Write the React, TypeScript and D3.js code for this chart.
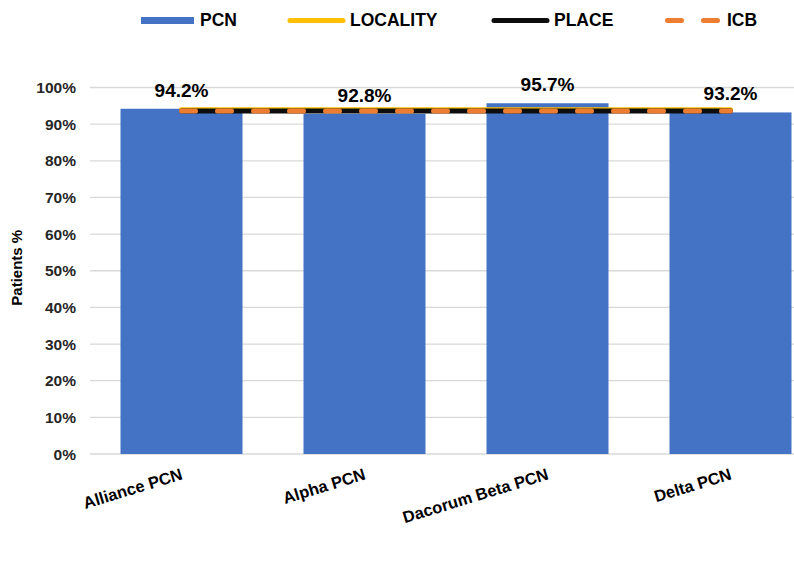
import React from "react";
import * as d3 from "d3";

const categories = ["Alliance PCN", "Alpha PCN", "Dacorum Beta PCN", "Delta PCN"];
const pcnValues = [0.942, 0.928, 0.957, 0.932];
const localityValues = [0.939, 0.939, 0.939, 0.939];
const placeValues = [0.936, 0.936, 0.936, 0.936];
const icbValues = [0.936, 0.936, 0.936, 0.936];
const yTicks = [0, 0.1, 0.2, 0.3, 0.4, 0.5, 0.6, 0.7, 0.8, 0.9, 1.0];

const W = 794;
const H = 562;
const FONT = "'Liberation Sans', Arial, sans-serif";

export default function App() {
  const x = d3
    .scaleBand<string>()
    .domain(categories)
    .range([90, 822])
    .paddingInner(1 / 3)
    .paddingOuter(1 / 6);
  const y = d3.scaleLinear().domain([0, 1]).range([454, 87.5]);
  const cx = (c: string) => (x(c) as number) + x.bandwidth() / 2;

  const line = d3
    .line<number>()
    .x((_, i) => cx(categories[i]))
    .y((d) => y(d));

  const pct = d3.format(".1%");
  const tickFmt = d3.format(".0%");

  return (
    <svg
      width={W}
      height={H}
      style={{ position: "absolute", left: 0, top: 0, background: "#fff" }}
      fontFamily={FONT}
    >
      {/* gridlines */}
      {yTicks.map((t) => (
        <line
          key={t}
          x1={90}
          x2={W}
          y1={y(t)}
          y2={y(t)}
          stroke="#d9d9d9"
          strokeWidth={1.3}
        />
      ))}
      {/* y tick labels */}
      {yTicks.map((t) => (
        <text
          key={"l" + t}
          x={76}
          y={y(t)}
          dy="0.36em"
          textAnchor="end"
          fontSize={15.5}
          fontWeight="bold"
          fill="#262626"
        >
          {tickFmt(t)}
        </text>
      ))}
      {/* y axis title */}
      <text
        transform={`translate(22,${(y(0) + y(1)) / 2 - 3}) rotate(-90)`}
        textAnchor="middle"
        fontSize={15}
        fontWeight="bold"
        fill="#000"
      >
        Patients %
      </text>
      {/* bars */}
      {categories.map((c, i) => (
        <rect
          key={c}
          x={x(c)}
          y={y(pcnValues[i])}
          width={x.bandwidth()}
          height={y(0) - y(pcnValues[i])}
          fill="#4472C4"
        />
      ))}
      {/* lines */}
      <path
        d={line(localityValues) || ""}
        fill="none"
        stroke="#FFC000"
        strokeWidth={5}
        strokeLinecap="round"
      />
      <path
        d={line(placeValues) || ""}
        fill="none"
        stroke="#0d0d0d"
        strokeWidth={5}
        strokeLinecap="round"
      />
      <path
        d={line(icbValues) || ""}
        fill="none"
        stroke="#ED7D31"
        strokeWidth={5}
        strokeLinecap="round"
        strokeDasharray="14,22"
      />
      {/* data labels */}
      {categories.map((c, i) => (
        <text
          key={"d" + c}
          x={cx(c)}
          y={y(pcnValues[i]) - 12}
          textAnchor="middle"
          fontSize={19}
          fontWeight="bold"
          fill="#000"
        >
          {pct(pcnValues[i])}
        </text>
      ))}
      {/* x labels */}
      {categories.map((c) => (
        <text
          key={"x" + c}
          transform={`translate(${cx(c) + 2},${479}) rotate(-17)`}
          textAnchor="end"
          fontSize={16.5}
          fontWeight="bold"
          fill="#000"
        >
          {c}
        </text>
      ))}
      {/* legend */}
      <g fontSize={17.5} fontWeight="bold" fill="#000">
        <rect x={141} y={17} width={53} height={7} fill="#4472C4" />
        <text x={200} y={25.5}>PCN</text>
        <line x1={290} x2={343} y1={20.5} y2={20.5} stroke="#FFC000" strokeWidth={5} strokeLinecap="round" />
        <text x={350} y={25.5}>LOCALITY</text>
        <line x1={494} x2={547} y1={20.5} y2={20.5} stroke="#0d0d0d" strokeWidth={5} strokeLinecap="round" />
        <text x={554} y={25.5}>PLACE</text>
        <line x1={667.5} x2={718} y1={20.5} y2={20.5} stroke="#ED7D31" strokeWidth={5} strokeLinecap="round" strokeDasharray="14,22" />
        <text x={727} y={25.5}>ICB</text>
      </g>
    </svg>
  );
}
